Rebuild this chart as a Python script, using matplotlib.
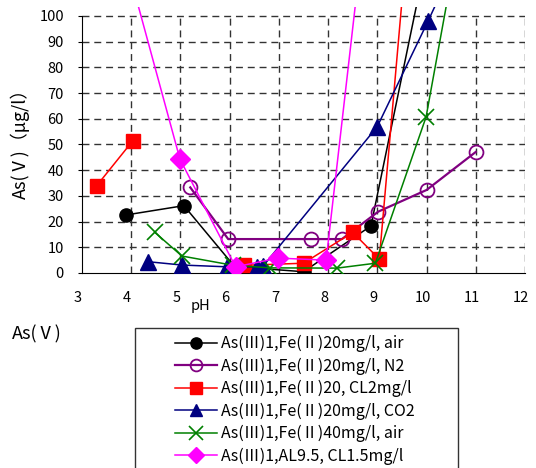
import numpy as np
import matplotlib
matplotlib.use("Agg")
import matplotlib.pyplot as plt
from matplotlib.patches import Rectangle
from matplotlib.transforms import ScaledTranslation

plt.rcParams['font.family'] = ['Noto Sans CJK JP', 'DejaVu Sans']

# 系列データ (pH, As(V) μg/l)
ph_air20 = [3.9, 5.07, 6.1, 7.5, 8.87, 10.0]
as_air20 = [22.6, 26.2, 2.5, 0.5, 18.3, 123.0]

ph_n2 = [5.2, 5.97, 7.65, 8.28, 9.02, 10.0, 11.0]
as_n2 = [33.3, 13.2, 13.2, 13.2, 23.9, 32.3, 47.1]

ph_cl2 = [3.3, 4.03, np.nan, 6.3, 7.5, 8.5, 9.04, 10.0]
as_cl2 = [34.0, 51.4, np.nan, 3.0, 3.8, 15.8, 5.4, 215.0]

ph_co2 = [4.34, 5.03, 5.95, 6.56, 6.68, 9.0, 10.03, 11.0]
as_co2 = [4.4, 3.1, 2.4, 2.4, 2.7, 57.0, 98.0, 138.0]

ph_air40 = [4.48, 5.03, 6.07, 6.82, 8.18, 8.96, 9.99, 11.0]
as_air40 = [15.8, 6.6, 3.0, 2.0, 1.9, 3.8, 60.7, 167.0]

ph_al = [4.0, 4.99, 6.12, 6.98, 7.96, 9.0]
as_al = [114.0, 44.3, 2.4, 5.8, 5.0, 179.0]

labels = ['As(Ⅲ)1,Fe(Ⅱ)20mg/l, air',
          'As(Ⅲ)1,Fe(Ⅱ)20mg/l, N2',
          'As(Ⅲ)1,Fe(Ⅱ)20, CL2mg/l',
          'As(Ⅲ)1,Fe(Ⅱ)20mg/l, CO2',
          'As(Ⅲ)1,Fe(Ⅱ)40mg/l, air',
          'As(Ⅲ)1,AL9.5, CL1.5mg/l']

x_ticks = list(range(3, 13))
y_ticks = list(range(0, 101, 10))

W, H = 536, 468
fig = plt.figure(figsize=(W / 100, H / 100), dpi=100)
ax = fig.add_axes([82 / W, 1 - 273 / H, (525 - 82) / W, (273 - 7) / H])

ax.set_xlim(3, 12)
ax.set_ylim(0, 103.5)

# 破線グリッド (0-100 の範囲のみ)
grid_kw = dict(colors='#333333', linewidth=1, linestyles=(0, (5, 3.5)), zorder=1)
ax.hlines(y_ticks[1:], 3, 12, **grid_kw)
ax.vlines(x_ticks[1:], 0, 100, **grid_kw)

series = [
    (ph_air20, as_air20, dict(color='black', marker='o', ms=9.5)),
    (ph_n2, as_n2, dict(color='#800080', marker='o', ms=10, mfc='none', mew=1.3, lw=1.6)),
    (ph_cl2, as_cl2, dict(color='red', marker='s', ms=10)),
    (ph_co2, as_co2, dict(color='#000080', marker='^', ms=11)),
    (ph_air40, as_air40, dict(color='green', marker='x', ms=12, mew=1.2)),
    (ph_al, as_al, dict(color='magenta', marker='D', ms=10)),
]
handles = []
for (x, y, kw), lab in zip(series, labels):
    kw.setdefault('lw', 1.1)
    h, = ax.plot(x, y, label=lab, zorder=3, **kw)
    handles.append(h)

ax.spines['top'].set_visible(False)
ax.spines['right'].set_visible(False)
ax.spines['left'].set_bounds(0, 100)

ax.set_xticks(x_ticks)
ax.set_yticks(y_ticks)
ax.tick_params(axis='x', length=0, pad=13, labelsize=10.5)
ax.tick_params(axis='y', direction='out', length=3, pad=10, labelsize=10.5)
shift = ScaledTranslation(-4 / 100, 0, fig.dpi_scale_trans)
for lbl in ax.get_xticklabels():
    lbl.set_transform(lbl.get_transform() + shift)

fig.text(20 / W, 1 - 139 / H, 'As(Ⅴ)（μg/l）', rotation=90,
         ha='center', va='center', fontsize=13)
fig.text(201 / W, 1 - 306 / H, 'pH', ha='center', va='center', fontsize=10.5)
fig.text(12 / W, 1 - 334 / H, 'As(Ⅴ)', ha='left', va='center', fontsize=13)

# 凡例 (枠は別に描画)
fig.patches.append(Rectangle((135 / W, 1 - 480 / H), (458 - 135) / W, (480 - 328) / H,
                             transform=fig.transFigure, fill=False,
                             edgecolor='#333333', linewidth=1))
fig.legend(handles=handles, loc='upper left', bbox_to_anchor=(167 / W, 1 - 327 / H),
           frameon=False, borderpad=0, handlelength=2.6, handletextpad=0.25,
           labelspacing=0.33, fontsize=11.5, markerscale=0.85)

fig.savefig('out.png', dpi=100)
